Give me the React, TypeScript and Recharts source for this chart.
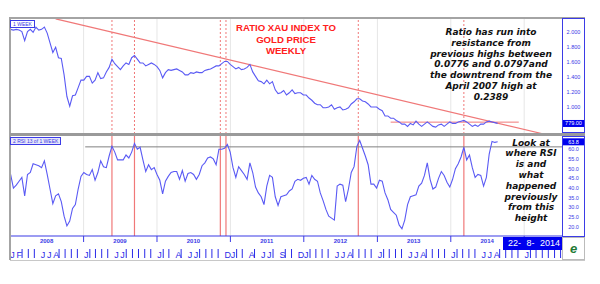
import React from 'react';
import { LineChart, Line, XAxis, YAxis, ReferenceLine } from 'recharts';

// weekly closes sampled every second week, first point 4 Jan 2008
const START_DATE = '2008-01-04';
const STEP_DAYS = 14;

// ratio XAU index / gold (axis units as printed on the chart scale)
const ratioValues = [
  2.04, 2.03, 2.04, 2.03, 2.01, 1.89, 2.01, 2.04, 2.0, 2.07,
  2.03, 2.04, 2.07, 1.99, 1.86, 1.73, 1.8, 1.66, 1.65, 1.43,
  1.14, 1.01, 1.15, 1.16, 1.26, 1.36, 1.36, 1.41, 1.41, 1.32,
  1.36, 1.46, 1.38, 1.39, 1.47, 1.53, 1.64, 1.58, 1.54, 1.5,
  1.55, 1.59, 1.57, 1.66, 1.69, 1.64, 1.59, 1.59, 1.55, 1.57,
  1.59, 1.57, 1.54, 1.49, 1.39, 1.46, 1.5, 1.49, 1.5, 1.51,
  1.49, 1.47, 1.43, 1.43, 1.46, 1.45, 1.47, 1.46, 1.46, 1.49,
  1.5, 1.51, 1.53, 1.55, 1.55, 1.58, 1.61, 1.61, 1.57, 1.54,
  1.51, 1.53, 1.5, 1.51, 1.53, 1.57, 1.47, 1.41, 1.35, 1.34,
  1.31, 1.36, 1.31, 1.34, 1.23, 1.18, 1.19, 1.22, 1.16, 1.19,
  1.23, 1.18, 1.19, 1.19, 1.16, 1.16, 1.12, 1.09, 1.05, 1.03,
  1.03, 0.99, 0.99, 1.0, 1.03, 0.97, 0.99, 1.0, 0.96, 0.97,
  0.99, 1.04, 1.07, 1.11, 1.11, 1.08, 1.07, 1.04, 1.0, 1.0,
  1.0, 0.97, 0.95, 0.88, 0.88, 0.85, 0.85, 0.82, 0.8, 0.77,
  0.77, 0.74, 0.78, 0.76, 0.81, 0.77, 0.74, 0.77, 0.8, 0.77,
  0.74, 0.73, 0.76, 0.77, 0.74, 0.77, 0.8, 0.78, 0.78, 0.8,
  0.81, 0.82, 0.8, 0.77, 0.74, 0.76, 0.74, 0.77, 0.77, 0.8,
  0.81, 0.8, 0.79, 0.78,
];

// RSI 13
const rsiValues = [
  47.0, 40.0, 41.5, 43.5, 45.5, 36.0, 47.0, 48.0, 52.5, 52.0,
  51.5, 50.5, 54.0, 47.0, 39.5, 32.0, 36.0, 37.0, 33.0, 25.5,
  20.5, 23.0, 29.5, 31.5, 39.5, 46.0, 48.0, 47.0, 46.5, 49.5,
  44.0, 48.0, 54.0, 51.0, 50.5, 56.5, 61.5, 58.5, 54.5, 54.5,
  54.5, 57.0, 55.5, 58.5, 63.0, 60.0, 61.0, 54.5, 48.5, 52.0,
  49.5, 50.5, 47.0, 44.0, 37.0, 43.5, 46.0, 48.0, 48.5, 48.5,
  44.5, 49.0, 43.5, 47.5, 48.0, 47.0, 44.5, 47.0, 51.5, 53.0,
  55.5, 56.0, 55.0, 52.0, 60.0, 60.0, 60.5, 62.5, 58.5, 50.5,
  45.5, 51.0, 49.0, 47.0, 44.5, 53.0, 48.0, 40.5, 37.5, 35.5,
  31.5, 41.0, 46.5, 45.5, 35.5, 31.0, 35.5, 36.0, 36.5, 38.5,
  39.5, 43.5, 44.5, 44.0, 45.0, 45.5, 42.0, 46.5, 44.5, 43.5,
  37.5, 33.5, 29.0, 25.5, 24.5, 23.5, 41.0, 42.0, 41.5, 33.0,
  39.5, 48.0, 51.0, 61.5, 64.5, 60.5, 56.5, 52.0, 42.0, 42.0,
  40.0, 44.0, 43.5, 37.5, 34.0, 29.0, 27.5, 26.0, 21.0, 19.0,
  23.5, 31.5, 35.5, 36.0, 36.5, 41.0, 42.5, 46.5, 53.0, 44.5,
  39.5, 40.5, 45.0, 48.5, 46.5, 43.0, 40.5, 44.5, 50.0, 52.5,
  56.0, 61.0, 54.5, 57.0, 50.5, 45.5, 47.0, 46.5, 41.0, 45.5,
  57.5, 64.0, 63.5, 63.8,
];

const ratioTicks = [1.0, 1.2, 1.4, 1.6, 1.8, 2.0];
const ratioLast = 0.779;
const ratioLastLabel = '779.00';
const rsiTicks = [20, 25, 30, 35, 40, 45, 50, 55, 60];
const rsiLast = 63.8;

const years = [2008, 2009, 2010, 2011, 2012, 2013, 2014];
const yearStarts = [2009, 2010, 2011, 2012, 2013, 2014, 2015];
const monthLetters = ['J', 'F', 'M', 'A', 'M', 'J', 'J', 'A', 'S', 'O', 'N', 'D'];
const labelledMonths = [
  '2008-01', '2008-02', '2008-06', '2008-07', '2008-08',
  '2009-01', '2009-06', '2009-07',
  '2010-01', '2010-04', '2010-06', '2010-07', '2010-12',
  '2011-01', '2011-04', '2011-06', '2011-07', '2011-09', '2011-12',
  '2012-01', '2012-06', '2012-07', '2012-08',
  '2013-01', '2013-06', '2013-07', '2013-08',
  '2014-01', '2014-06', '2014-07', '2014-08',
  '2015-01',
];

// RSI peaks marked with red verticals
const signalDates = ['2009-05-22', '2009-09-11', '2010-11-12', '2010-12-10', '2012-09-28', '2014-03-07'];
const downtrend = [
  { date: '2008-08-15', value: 2.18 },
  { date: '2015-04-08', value: 0.638 },
];
const resistance = { from: '2013-03-08', to: '2014-12-05', value: 0.797 };
const rsiLevel = { from: '2009-01-09', value: 61.2 };

const DAY = 86400000;
const T0 = Date.UTC(2008, 0, 1);
const T1 = T0 + 2745 * DAY;
const startMs = Date.parse(START_DATE);

const data = ratioValues.map((v, i) => ({
  t: startMs + i * STEP_DAYS * DAY,
  ratio: v,
  rsi: rsiValues[i],
}));

const AXIS_BLUE = '#3b3be6';
const LINE_BLUE = '#5a5af4';
const SIGNAL_RED = '#f07878';
const SANS = '"Liberation Sans", Arial, sans-serif';
const NOTE_FONT = '"DejaVu Sans", Verdana, sans-serif';

const yearTickValues = [
  ...yearStarts.map((y) => Date.UTC(y, 0, 1)),
  ...years.map((y) => Date.UTC(y, 6, 1)),
];
const monthTickValues: number[] = [];
for (let y = 2008; y <= 2015; y++) {
  for (let m = 0; m < 12; m++) {
    const ms = Date.UTC(y, m, 1);
    if (ms <= T1) monthTickValues.push(ms);
  }
}

const rightTick = (digits: number, last: number, lastLabel: string) => (props: any) => {
  const { x, y, payload } = props;
  if (payload.value === last) {
    return (
      <g>
        <rect x={x + 1} y={y - 3.5} width={21} height={7} fill="#0000ee" />
        <text x={x + 11.5} y={y + 2} textAnchor="middle" fontSize={5.5} fill="#fff" fontFamily={SANS}>
          {lastLabel}
        </text>
      </g>
    );
  }
  return (
    <text x={x + 11.5} y={y + 2} textAnchor="middle" fontSize={5.5} fill={AXIS_BLUE} fontFamily={SANS}>
      {payload.value.toFixed(digits)}
    </text>
  );
};

const YearTick = (props: any) => {
  const { x, y, payload } = props;
  const d = new Date(payload.value);
  if (d.getUTCMonth() === 0) {
    return <line x1={x} x2={x} y1={y} y2={y + 6} stroke={AXIS_BLUE} strokeWidth={1} />;
  }
  return (
    <text x={x} y={y + 6.5} textAnchor="middle" fontSize={6} fontWeight="bold" fill={AXIS_BLUE} fontFamily={SANS}>
      {d.getUTCFullYear()}
    </text>
  );
};

const MonthTick = (props: any) => {
  const { x, y, payload } = props;
  const d = new Date(payload.value);
  const m = d.getUTCMonth();
  const key = `${d.getUTCFullYear()}-${String(m + 1).padStart(2, '0')}`;
  if (labelledMonths.includes(key)) {
    return (
      <text x={x + 0.3} y={y + 14} fontSize={9} fill="#2a2ae8" fontFamily={SANS}>
        {monthLetters[m]}
      </text>
    );
  }
  return <line x1={x} x2={x} y1={y + 5} y2={y + 14} stroke="#2a2ae8" strokeWidth={1} />;
};

const abs = (s: React.CSSProperties): React.CSSProperties => ({ position: 'absolute', ...s });

export default function App() {
  return (
    <div style={abs({ left: 0, top: 0, width: 600, height: 284, background: '#fff', overflow: 'hidden' })}>
      {/* price ratio panel */}
      <div style={abs({ left: 10, top: 18 })}>
        <LineChart width={575} height={116} data={data} margin={{ top: 0, right: 0, bottom: 0, left: 0 }}>
          <XAxis type="number" dataKey="t" domain={[T0, T1]} allowDataOverflow hide />
          <YAxis
            orientation="right"
            width={23}
            type="number"
            domain={[0.638, 2.192]}
            allowDataOverflow
            ticks={[...ratioTicks, ratioLast]}
            interval={0}
            tick={rightTick(3, ratioLast, ratioLastLabel)}
            tickLine={false}
            axisLine={false}
            tickSize={0}
            tickMargin={0}
          />
          {yearStarts.map((y) => (
            <ReferenceLine key={y} x={Date.UTC(y, 0, 1)} stroke="#e6e6e6" />
          ))}
          {signalDates.map((d) => (
            <ReferenceLine key={d} x={Date.parse(d)} stroke={SIGNAL_RED} strokeDasharray="2 2" />
          ))}
          <ReferenceLine
            segment={downtrend.map((p) => ({ x: Date.parse(p.date), y: p.value }))}
            stroke={SIGNAL_RED}
            strokeWidth={1.2}
          />
          <ReferenceLine
            segment={[
              { x: Date.parse(resistance.from), y: resistance.value },
              { x: Date.parse(resistance.to), y: resistance.value },
            ]}
            stroke={SIGNAL_RED}
            strokeWidth={1}
          />
          <Line type="linear" dataKey="ratio" stroke={LINE_BLUE} strokeWidth={1.1} dot={false} isAnimationActive={false} />
        </LineChart>
      </div>

      {/* RSI panel with date axes */}
      <div style={abs({ left: 10, top: 136 })}>
        <LineChart width={575} height={124} data={data} margin={{ top: 0, right: 0, bottom: 0, left: 0 }}>
          <XAxis
            type="number"
            dataKey="t"
            domain={[T0, T1]}
            allowDataOverflow
            height={8}
            ticks={yearTickValues}
            interval={0}
            tick={YearTick}
            tickLine={false}
            tickSize={0}
            tickMargin={0}
            axisLine={{ stroke: AXIS_BLUE, strokeWidth: 1.2 }}
          />
          <XAxis
            xAxisId="m"
            type="number"
            dataKey="t"
            domain={[T0, T1]}
            allowDataOverflow
            height={16}
            ticks={monthTickValues}
            interval={0}
            tick={MonthTick}
            tickLine={false}
            tickSize={0}
            tickMargin={0}
            axisLine={false}
          />
          <YAxis
            orientation="right"
            width={23}
            type="number"
            domain={[15.3, 66.8]}
            allowDataOverflow
            ticks={[...rsiTicks, rsiLast]}
            interval={0}
            tick={rightTick(1, rsiLast, rsiLast.toFixed(1))}
            tickLine={false}
            axisLine={false}
            tickSize={0}
            tickMargin={0}
          />
          {yearStarts.map((y) => (
            <ReferenceLine key={y} x={Date.UTC(y, 0, 1)} stroke="#e6e6e6" />
          ))}
          {signalDates.map((d) => (
            <ReferenceLine key={d} x={Date.parse(d)} stroke={SIGNAL_RED} strokeWidth={1.2} />
          ))}
          <ReferenceLine
            segment={[
              { x: Date.parse(rsiLevel.from), y: rsiLevel.value },
              { x: T1, y: rsiLevel.value },
            ]}
            stroke="#808080"
            strokeWidth={1}
          />
          <Line type="linear" dataKey="rsi" stroke={LINE_BLUE} strokeWidth={1.1} dot={false} isAnimationActive={false} />
        </LineChart>
      </div>

      {/* frame */}
      <div style={abs({ left: 9, top: 17, width: 576, height: 1.5, background: '#a4a4a4' })} />
      <div style={abs({ left: 9, top: 17, width: 1.5, height: 243, background: '#a4a4a4' })} />
      <div style={abs({ left: 10, top: 133, width: 575, height: 3, background: '#9a9a9a' })} />
      <div style={abs({ left: 562, top: 18, width: 23, height: 115, border: `1px solid ${AXIS_BLUE}`, boxSizing: 'border-box' })} />
      <div style={abs({ left: 562, top: 136, width: 23, height: 101, border: `1px solid ${AXIS_BLUE}`, boxSizing: 'border-box' })} />
      <div style={abs({ left: 10, top: 259.5, width: 575, height: 1, background: '#c8c8c8' })} />

      {/* panel labels */}
      <div style={abs({ left: 10, top: 20, fontSize: 5, lineHeight: '6px', padding: '0 2px', border: `1px solid ${AXIS_BLUE}`, color: AXIS_BLUE, background: '#fff', fontFamily: SANS })}>
        1 WEEK
      </div>
      <div style={abs({ left: 10, top: 137, fontSize: 5, lineHeight: '6px', padding: '0 2px', border: `1px solid ${AXIS_BLUE}`, color: AXIS_BLUE, background: '#e6e6fa', fontFamily: SANS })}>
        2 RSI 13 of 1 WEEK
      </div>

      {/* date box and logo */}
      <div style={abs({ left: 503, top: 237, width: 59, height: 13, background: '#0000ee', color: '#fff', fontFamily: SANS, fontSize: 9, lineHeight: '13px', display: 'flex', justifyContent: 'space-between', padding: '0 2px 0 5px', boxSizing: 'border-box' })}>
        <span>22-</span>
        <span>8-</span>
        <span>2014</span>
      </div>
      <div style={abs({ left: 562, top: 237, width: 23, height: 23, border: '1px solid #bbb', boxSizing: 'border-box', background: '#fff', color: '#1f7a35', fontFamily: SANS, fontWeight: 'bold', fontStyle: 'italic', fontSize: 13, lineHeight: '21px', textAlign: 'center' })}>
        e
      </div>

      {/* annotations */}
      <div style={abs({ left: 226, top: 22, width: 120, textAlign: 'center', color: '#ff2020', fontFamily: SANS, fontWeight: 'bold', fontSize: 9.6, lineHeight: '11.5px' })}>
        RATIO XAU INDEX TO<br />GOLD PRICE<br />WEEKLY
      </div>
      <div style={abs({ left: 416, top: 27, width: 150, textAlign: 'center', color: '#111', fontFamily: NOTE_FONT, fontWeight: 'bold', fontStyle: 'italic', fontSize: 9, lineHeight: '10.8px' })}>
        Ratio has run into<br />resistance from<br />previous highs between<br />0.0776 and 0.0797and<br />the downtrend from the<br />April 2007 high at<br />0.2389
      </div>
      <div style={abs({ left: 481, top: 137.6, width: 100, textAlign: 'center', color: '#111', fontFamily: NOTE_FONT, fontWeight: 'bold', fontStyle: 'italic', fontSize: 9, lineHeight: '10.8px' })}>
        Look at<br />where RSI<br />is and<br />what<br />happened<br />previously<br />from this<br />height
      </div>
    </div>
  );
}
